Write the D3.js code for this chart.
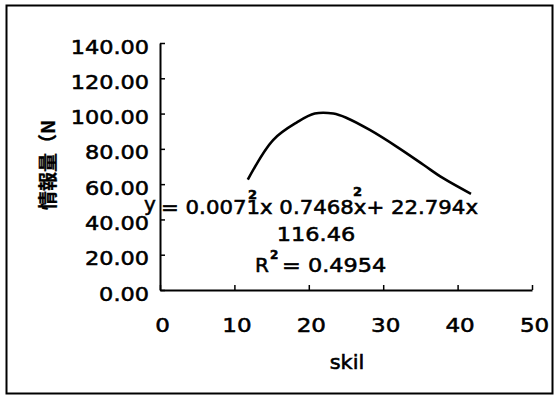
<!DOCTYPE html>
<html>
<head>
<meta charset="utf-8">
<script src="https://cdn.jsdelivr.net/npm/d3@7"></script>
<style>
  html, body { margin: 0; padding: 0; background: #fff; }
  svg { display: block; }
  text { font-family: "DejaVu Sans", sans-serif; fill: #000; stroke: #000; stroke-width: 0.55px; }
</style>
</head>
<body>
<svg id="chart" width="557" height="397"></svg>
<script>
// skill vs. information amount (N)
const skill = [11.8, 15.2, 18.4, 20.8, 23.3, 25.1, 28.2, 31.9, 35.4, 38.0, 41.8];
const info  = [62.5, 85.0, 95.0, 100.0, 100.0, 97.5, 90.7, 81.0, 71.0, 63.5, 54.5];
const xTicks = [0, 10, 20, 30, 40, 50];
const yTicks = [0, 20, 40, 60, 80, 100, 120, 140];
const xTitle = "skil";
const yTitle = "情報量（N";
const eqLine1 = "= 0.0071x 0.7468x+ 22.794x";
const eqLine2 = "116.46";
const eqLine3 = "= 0.4954";

const svg = d3.select("#chart");

// outer frame
svg.append("rect")
  .attr("x", 6.5).attr("y", 5.5)
  .attr("width", 546).attr("height", 388)
  .attr("fill", "none").attr("stroke", "#000").attr("stroke-width", 2);

const x = d3.scaleLinear().domain([0, 50]).range([160, 532]);
const y = d3.scaleLinear().domain([0, 140]).range([290, 43]);

// stretch helper: widen glyphs horizontally by a factor
function stretch(sel, k) {
  sel.each(function () {
    const w = this.getComputedTextLength();
    d3.select(this).attr("textLength", w * k).attr("lengthAdjust", "spacingAndGlyphs");
  });
}

// x axis
const gx = svg.append("g").attr("transform", `translate(0,${y(0)})`)
  .call(d3.axisBottom(x).tickValues(xTicks).tickSizeInner(-5).tickSizeOuter(0).tickPadding(22));
gx.select(".domain").attr("stroke-width", 2);
gx.selectAll(".tick line").attr("stroke-width", 1.5);
gx.selectAll(".tick text")
  .style("font-family", "'DejaVu Sans', sans-serif")
  .attr("font-size", 20).attr("dy", "0.32em").attr("y", 36).attr("dx", 2)
  .call(stretch, 1.15);

// y axis
const gy = svg.append("g").attr("transform", `translate(${x(0)},0)`)
  .call(d3.axisLeft(y).tickValues(yTicks).tickFormat(d3.format(".2f"))
    .tickSizeInner(-5).tickSizeOuter(0).tickPadding(11));
gy.select(".domain").attr("stroke-width", 2);
gy.selectAll(".tick line").attr("stroke-width", 1.5);
gy.selectAll(".tick text")
  .style("font-family", "'DejaVu Sans', sans-serif")
  .attr("font-size", 20).attr("dy", "0.5em")
  .call(stretch, 1.12);

// axis titles
svg.append("text")
  .attr("x", 347).attr("y", 369)
  .attr("text-anchor", "middle")
  .attr("font-size", 19)
  .text(xTitle)
  .call(stretch, 1.1);

svg.append("text")
  .attr("transform", "translate(55,165) rotate(-90)")
  .attr("text-anchor", "middle")
  .style("font-family", "'Noto Sans CJK JP', sans-serif")
  .style("stroke-width", "0.3px")
  .attr("font-weight", 700)
  .attr("font-size", 19)
  .text(yTitle);

// data line
const line = d3.line()
  .x((d, i) => x(skill[i]))
  .y((d, i) => y(info[i]))
  .curve(d3.curveCatmullRom.alpha(0.5));
svg.append("path")
  .datum(info)
  .attr("d", line)
  .attr("fill", "none")
  .attr("stroke", "#000")
  .attr("stroke-width", 2.6)
  .attr("stroke-linejoin", "round");

// trendline equation
const eq = svg.append("g");
eq.append("text").attr("x", 144).attr("y", 211).attr("font-size", 20).text("y");
eq.append("text").attr("x", 161).attr("y", 214).attr("font-size", 20)
  .text(eqLine1)
  .attr("textLength", 317).attr("lengthAdjust", "spacingAndGlyphs");
eq.append("text").attr("x", 248).attr("y", 199).attr("font-size", 13).attr("font-weight", 700).text("2");
eq.append("text").attr("x", 353).attr("y", 196).attr("font-size", 13).attr("font-weight", 700).text("2");
eq.append("text").attr("x", 316).attr("y", 241).attr("text-anchor", "middle").attr("font-size", 20)
  .text(eqLine2).call(stretch, 1.12);
eq.append("text").attr("x", 255).attr("y", 272).attr("font-size", 20).text("R");
eq.append("text").attr("x", 270).attr("y", 259).attr("font-size", 12).attr("font-weight", 700).text("2");
eq.append("text").attr("x", 282).attr("y", 272).attr("font-size", 20)
  .text(eqLine3).call(stretch, 1.12);
</script>
</body>
</html>
